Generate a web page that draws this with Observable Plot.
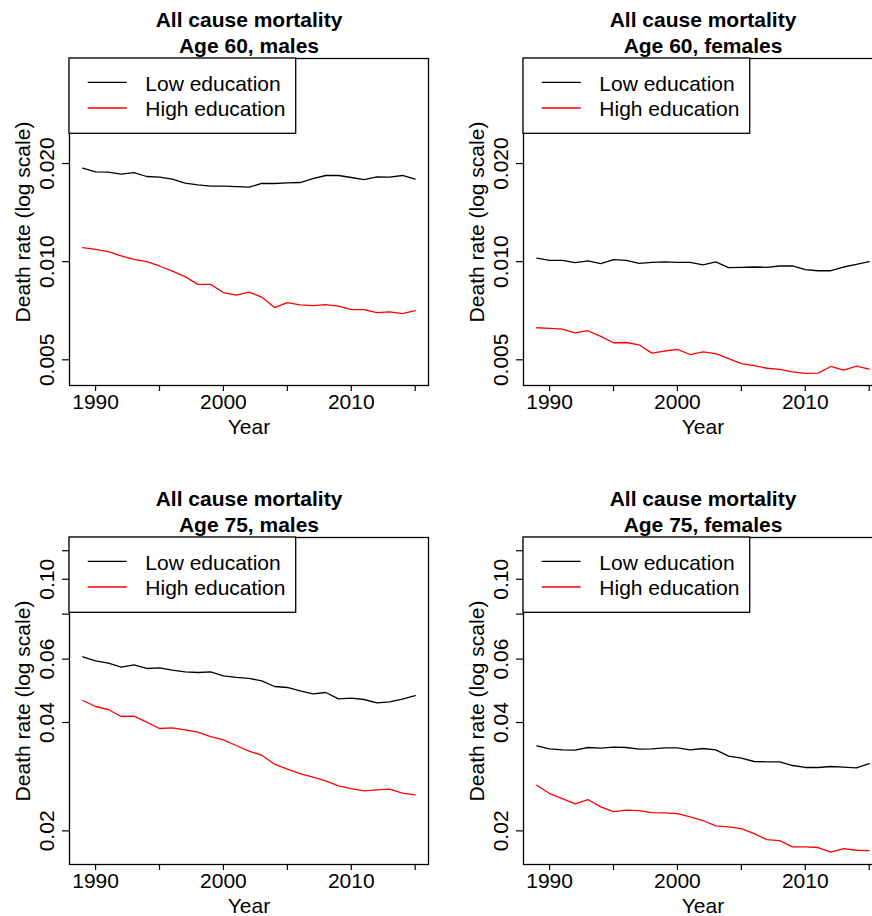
<!DOCTYPE html>
<html>
<head>
<meta charset="utf-8">
<script src="https://cdn.jsdelivr.net/npm/d3@7"></script>
<script src="https://cdn.jsdelivr.net/npm/@observablehq/plot@0.6"></script>
<style>
  html, body { margin: 0; padding: 0; overflow: hidden; background: #fff; }
  #page { position: relative; width: 872px; height: 916px; overflow: hidden; font-family: "Liberation Sans", Arial, sans-serif; }
  .panel { position: absolute; width: 454px; height: 437px; }
  .panel svg { position: absolute; left: 0; top: 0; overflow: visible; }
</style>
</head>
<body>
<div id="page"></div>
<script>
// years on the x axis
const years = [1989, 1990, 1991, 1992, 1993, 1994, 1995, 1996, 1997, 1998, 1999, 2000, 2001, 2002,
  2003, 2004, 2005, 2006, 2007, 2008, 2009, 2010, 2011, 2012, 2013, 2014, 2015]

// death rates
const m60Low = [0.01935, 0.01886, 0.01881, 0.01855, 0.01877, 0.01825, 0.01816, 0.01791, 0.01741, 0.01720, 0.01704, 0.01704, 0.01700, 0.01692, 0.01737, 0.01737, 0.01745, 0.01749, 0.01799, 0.01838, 0.01838, 0.01812, 0.01786, 0.01820, 0.01816, 0.01838, 0.01791]
const m60High = [0.01104, 0.01091, 0.01073, 0.01041, 0.01017, 0.01000, 0.00970, 0.00936, 0.00900, 0.00852, 0.00852, 0.00804, 0.00790, 0.00807, 0.00779, 0.00723, 0.00749, 0.00737, 0.00733, 0.00738, 0.00730, 0.00713, 0.00713, 0.00698, 0.00701, 0.00693, 0.00708]
const f60Low = [0.01026, 0.01009, 0.01009, 0.00993, 0.01005, 0.00986, 0.01014, 0.01009, 0.00988, 0.00995, 0.00998, 0.00995, 0.00995, 0.00977, 0.00998, 0.00959, 0.00961, 0.00963, 0.00961, 0.00970, 0.00970, 0.00945, 0.00938, 0.00938, 0.00963, 0.00981, 0.01000]
const f60High = [0.00627, 0.00624, 0.00621, 0.00605, 0.00614, 0.00590, 0.00564, 0.00565, 0.00556, 0.00524, 0.00532, 0.00538, 0.00519, 0.00529, 0.00522, 0.00504, 0.00487, 0.00480, 0.00471, 0.00467, 0.00459, 0.00454, 0.00455, 0.00477, 0.00465, 0.00478, 0.00468]
const m75Low = [0.0609, 0.05935, 0.05847, 0.05699, 0.05785, 0.05651, 0.05675, 0.05591, 0.05532, 0.05508, 0.05532, 0.05392, 0.05335, 0.05301, 0.05222, 0.05036, 0.05004, 0.04898, 0.04805, 0.04846, 0.04654, 0.04674, 0.04634, 0.04536, 0.04565, 0.04644, 0.04754]
const m75High = [0.04604, 0.04431, 0.04347, 0.04156, 0.04165, 0.04009, 0.03849, 0.03866, 0.03817, 0.03760, 0.03657, 0.03580, 0.03453, 0.03330, 0.03246, 0.03064, 0.02967, 0.02886, 0.02819, 0.02754, 0.02667, 0.02622, 0.02583, 0.02600, 0.02611, 0.02545, 0.02518]
const f75Low = [0.03446, 0.03380, 0.03358, 0.03351, 0.03409, 0.03394, 0.03416, 0.03409, 0.03373, 0.03380, 0.03402, 0.03402, 0.03358, 0.03387, 0.03358, 0.03225, 0.03184, 0.03117, 0.03110, 0.03110, 0.03038, 0.03000, 0.03000, 0.03019, 0.03006, 0.02993, 0.03077]
const f75High = [0.02679, 0.02539, 0.02459, 0.02377, 0.02444, 0.02331, 0.02263, 0.02283, 0.02278, 0.02249, 0.02244, 0.02234, 0.02187, 0.02137, 0.02065, 0.02052, 0.02030, 0.01966, 0.01892, 0.01880, 0.01805, 0.01805, 0.01798, 0.01745, 0.01786, 0.01767, 0.01763]

// ticks and labels
const xTicks = [1990, 1995, 2000, 2005, 2010, 2015]
const xTickLabels = ["1990", "", "2000", "", "2010", ""]
const yTicks60 = [0.005, 0.01, 0.02]
const yTickLabels60 = ["0.005", "0.010", "0.020"]
const yTicks75 = [0.02, 0.04, 0.06, 0.08, 0.10, 0.12]
const yTickLabels75 = ["0.02", "0.04", "0.06", "", "0.10", ""]

const seriesNames = ["Low education", "High education"]
const seriesColors = ["black", "red"]
const titleTop = "All cause mortality"

const panels = [
  {sub: "Age 60, males", low: m60Low, high: m60High, ticks: yTicks60, labels: yTickLabels60, domain: [0.00417, 0.042], left: 0, top: 0},
  {sub: "Age 60, females", low: f60Low, high: f60High, ticks: yTicks60, labels: yTickLabels60, domain: [0.00417, 0.042], left: 454.3, top: 0},
  {sub: "Age 75, males", low: m75Low, high: m75High, ticks: yTicks75, labels: yTickLabels75, domain: [0.01613, 0.1306], left: 0, top: 479.3},
  {sub: "Age 75, females", low: f75Low, high: f75High, ticks: yTicks75, labels: yTickLabels75, domain: [0.01613, 0.1306], left: 454.3, top: 479.3}
]

const page = d3.select('#page')
const fs = 21

panels.forEach(p => {
  const rows = years.map((year, i) => ({year, low: p.low[i], high: p.high[i]}))
  const yLab = p.ticks.map((v, i) => ({v, t: p.labels[i]}))

  let chart = Plot.plot({
    width: 454,
    height: 437,
    marginLeft: 69,
    marginRight: 26,
    marginTop: 58,
    marginBottom: 52,
    style: {fontFamily: '"Liberation Sans", Arial, sans-serif', fontSize: fs + "px", color: "black", background: "white"},
    x: {domain: [1987.96, 2016.04]},
    y: {type: "log", domain: p.domain},
    marks: [
      Plot.axisX({ticks: xTicks, tickFormat: d => xTickLabels[xTicks.indexOf(d)], tickSize: 6, tickPadding: 2.4, fontSize: fs, label: null, strokeWidth: 1.2}),
      Plot.axisY({ticks: p.ticks, tickFormat: () => "", tickSize: 7, label: null, strokeWidth: 1.2}),
      Plot.text(yLab, {y: "v", text: "t", frameAnchor: "left", dx: -15.4, rotate: -90, lineAnchor: "bottom", textAnchor: "middle", fontSize: fs}),
      Plot.line(rows, {x: "year", y: "low", stroke: seriesColors[0], strokeWidth: 1.3}),
      Plot.line(rows, {x: "year", y: "high", stroke: seriesColors[1], strokeWidth: 1.3}),
      Plot.frame({stroke: "black", strokeWidth: 1.3}),
      Plot.text([titleTop], {frameAnchor: "top", lineAnchor: "bottom", dy: -31.7, fontWeight: "bold", fontSize: fs}),
      Plot.text([p.sub], {frameAnchor: "top", lineAnchor: "bottom", dy: -6, fontWeight: "bold", fontSize: fs}),
      Plot.text(["Year"], {frameAnchor: "bottom", lineAnchor: "bottom", dy: 48.3, fontSize: fs}),
      Plot.text(["Death rate (log scale)"], {frameAnchor: "left", lineAnchor: "bottom", textAnchor: "middle", dx: -39.4, rotate: -90, fontSize: fs})
    ]
  })

  const div = page.append('div').attr('class', 'panel')
    .style('left', p.left + 'px').style('top', p.top + 'px')
  div.append(() => chart)

  // legend box in the top left corner of the plot region
  const leg = div.append('svg').attr('width', 454).attr('height', 437)
    .style('pointer-events', 'none')
  const g = leg.append('g').attr('transform', 'translate(69,58)')
  g.append('rect').attr('width', 226.7).attr('height', 75.3)
    .attr('fill', 'white').attr('stroke', 'black').attr('stroke-width', 1.3)
  seriesNames.forEach((name, i) => {
    g.append('line').attr('x1', 18.7).attr('x2', 57.7)
      .attr('y1', 24.3 + i * 25.7).attr('y2', 24.3 + i * 25.7)
      .attr('stroke', seriesColors[i]).attr('stroke-width', 1.3)
    g.append('text').attr('x', 76.3).attr('y', 32.7 + i * 25)
      .attr('font-family', '"Liberation Sans", Arial, sans-serif').attr('font-size', fs)
      .text(name)
  })
})
</script>
</body>
</html>
